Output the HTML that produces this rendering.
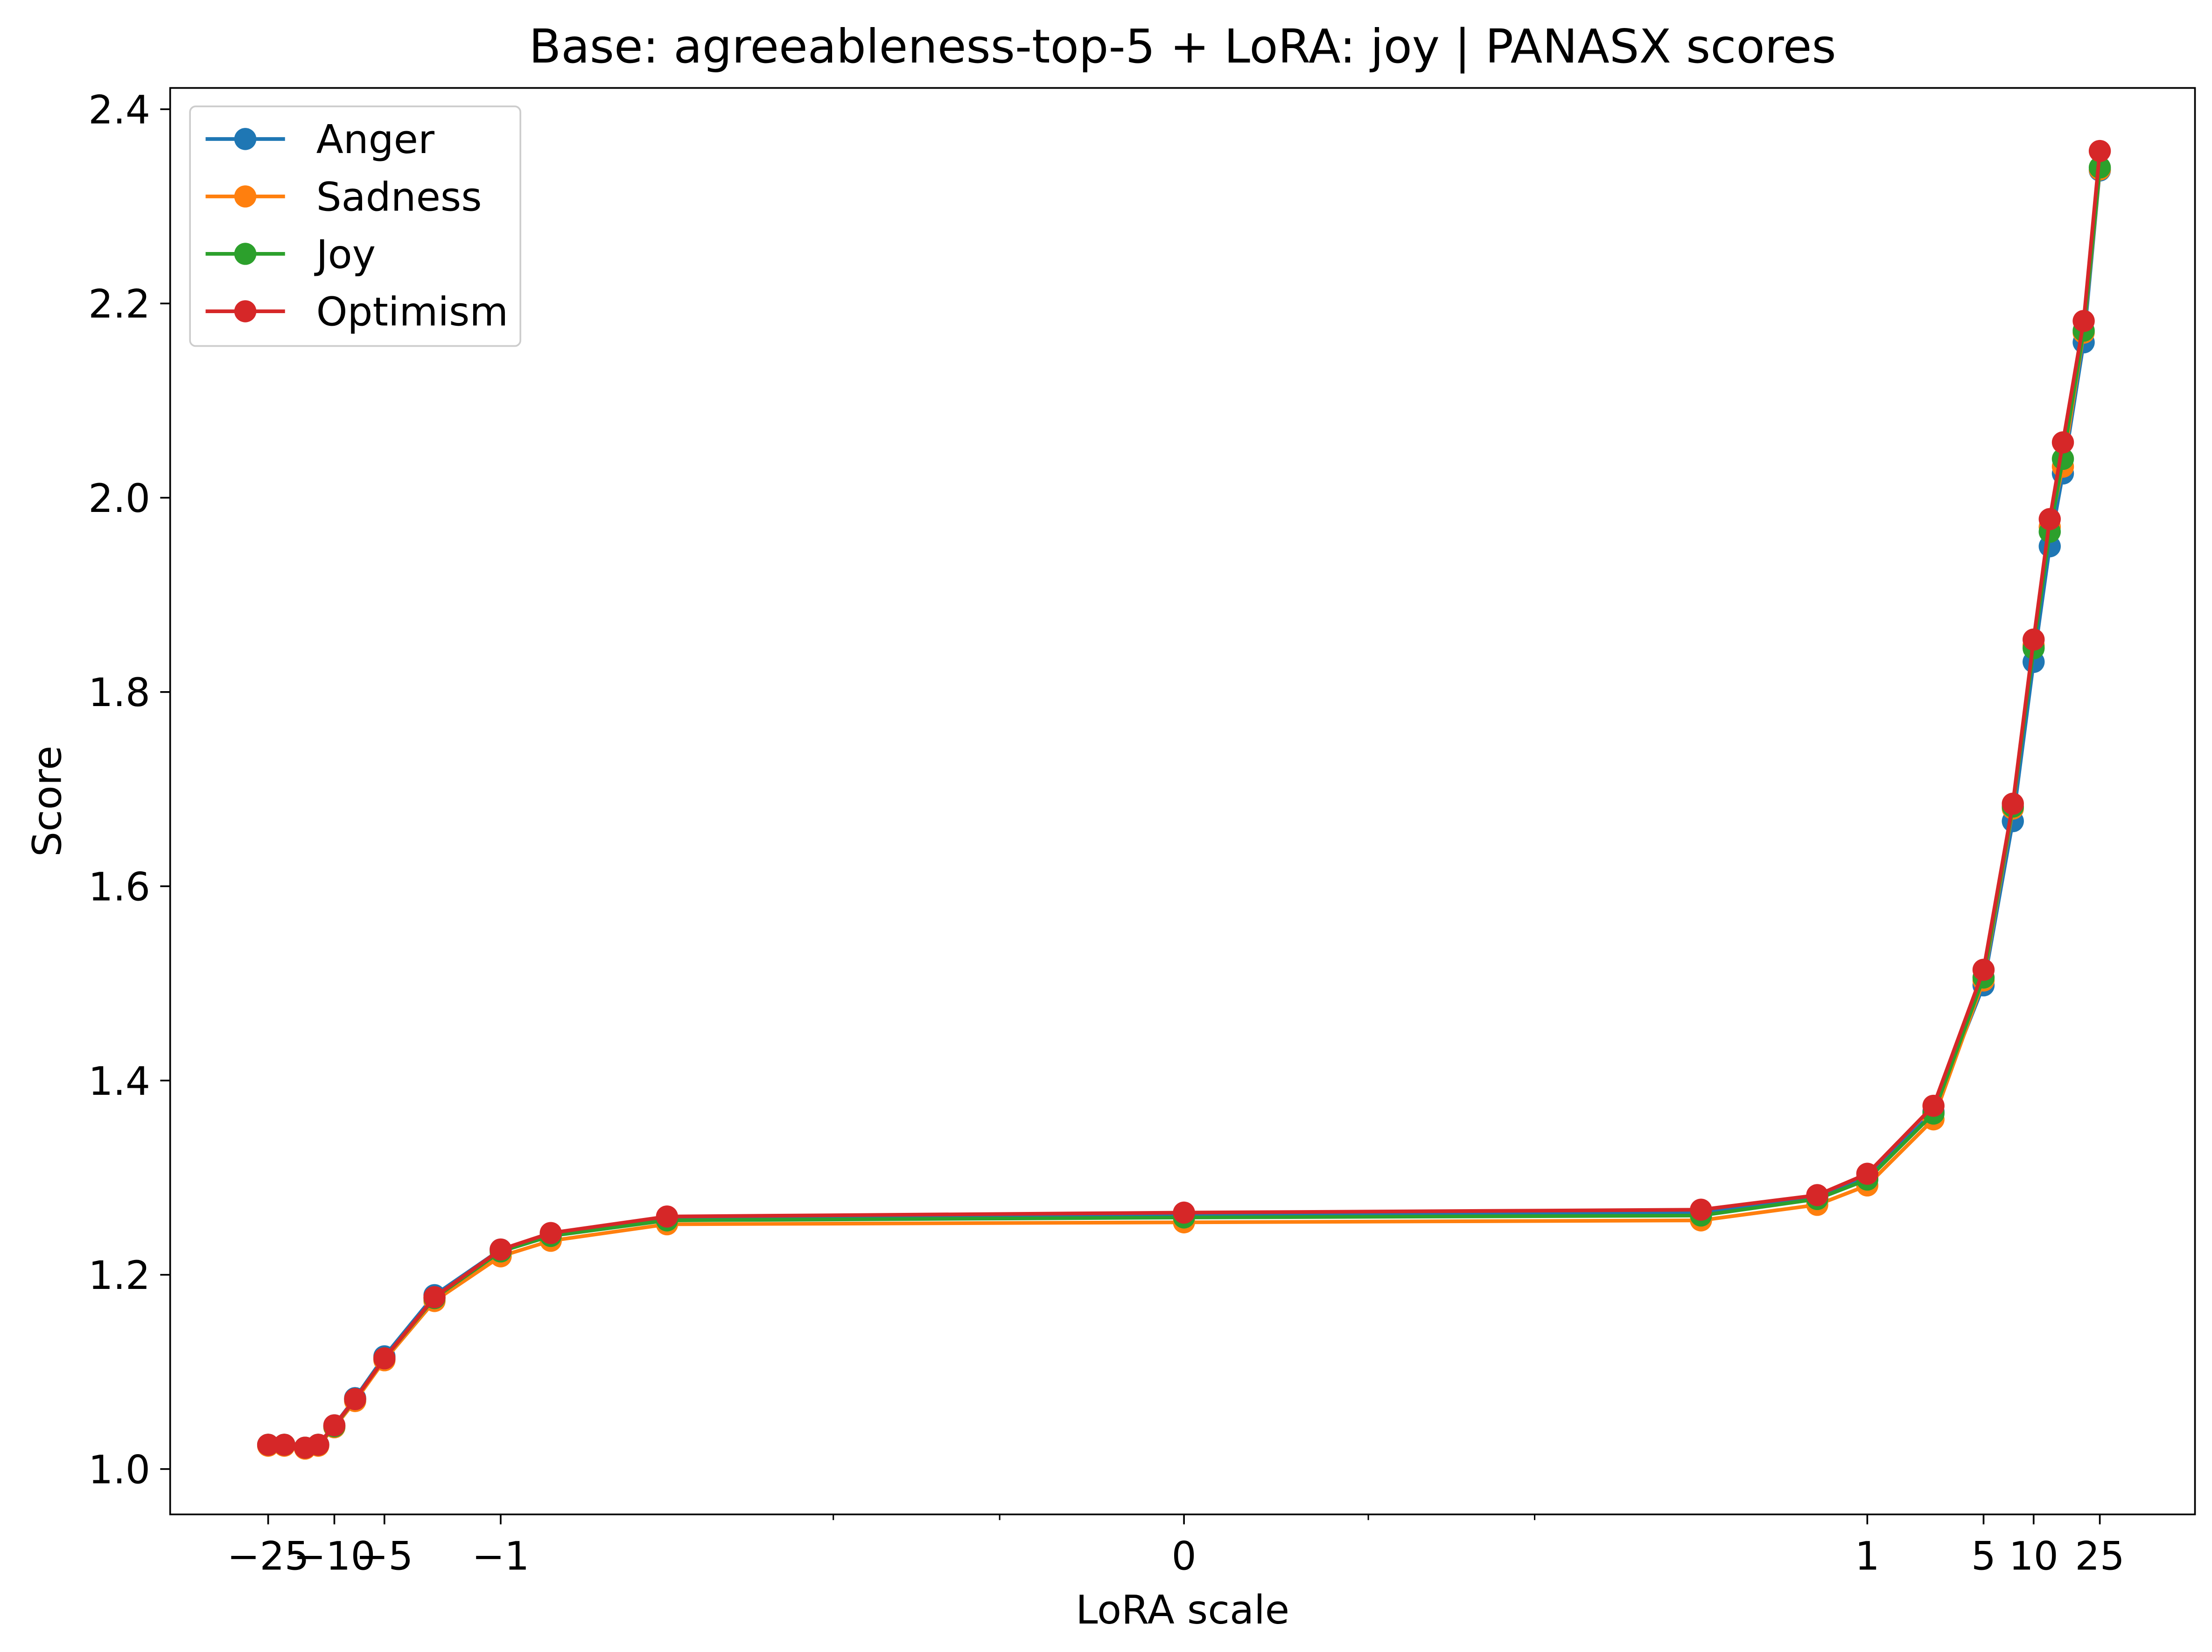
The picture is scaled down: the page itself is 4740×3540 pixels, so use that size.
<!DOCTYPE html>
<html><head><meta charset="utf-8"><style>html,body{margin:0;padding:0;background:#fff}svg{display:block}text{font-family:"DejaVu Sans","Liberation Sans",sans-serif;fill:#000}</style></head>
<body>
<svg id="chart" width="4740" height="3540" viewBox="0 0 1560 1165" xmlns="http://www.w3.org/2000/svg">
<rect x="0" y="0" width="1560" height="1165" fill="#fff"/>
<g id="plot"></g>
</svg>
<script>
const xs = [-25,-20,-15,-12.5,-10,-7.5,-5,-2.5,-1,-0.5,-0.1,0,0.1,0.5,1,2.5,5,7.5,10,12.5,15,20,25];
const anger    = [1.025,1.025,1.022,1.025,1.045,1.073,1.116,1.179,1.226,1.242,1.258,1.262,1.264,1.280,1.300,1.368,1.498,1.667,1.831,1.950,2.025,2.160,2.337];
const sadness  = [1.024,1.024,1.021,1.024,1.043,1.070,1.112,1.173,1.219,1.235,1.252,1.254,1.256,1.272,1.292,1.360,1.503,1.680,1.848,1.970,2.032,2.170,2.338];
const joy      = [1.025,1.025,1.022,1.025,1.044,1.072,1.114,1.176,1.224,1.240,1.256,1.259,1.261,1.278,1.298,1.366,1.506,1.682,1.845,1.965,2.040,2.172,2.340];
const optimism = [1.025,1.025,1.022,1.025,1.045,1.072,1.114,1.177,1.226,1.243,1.260,1.264,1.267,1.282,1.304,1.374,1.514,1.685,1.854,1.978,2.057,2.182,2.357];
const seriesNames = ["Anger","Sadness","Joy","Optimism"];
const colors = ["#1f77b4","#ff7f0e","#2ca02c","#d62728"];
const xTicks = [-25,-10,-5,-1,0,1,5,10,25];
const xTickLabels = ["\u221225","\u221210","\u22125","\u22121","0","1","5","10","25"];
const xMinor = [-0.01,-0.001,0.001,0.01];
const yTicks = [1.0,1.2,1.4,1.6,1.8,2.0,2.2,2.4];

const NS="http://www.w3.org/2000/svg";
const P={l:120,r:1548,t:62,b:1068};
const X0=835, LIN=130, DEC=117.3, T=0.001;
function xs_(v){const a=Math.abs(v);let d=a<=T? a/T*LIN : LIN+Math.log10(a/T)*DEC;return X0+Math.sign(v)*d;}
function ys_(v){return 1036-(v-1.0)*685;}
const g=document.getElementById('plot');
function el(t,a,p){const e=document.createElementNS(NS,t);for(const k in a)e.setAttribute(k,a[k]);(p||g).appendChild(e);return e;}

let e=el('text',{x:834,y:44,'font-size':33,'text-anchor':'middle'});e.textContent="Base: agreeableness-top-5 + LoRA: joy | PANASX scores";



const data=[anger,sadness,joy,optimism];
data.forEach((s,i)=>{
  const sg=el('g',{});
  
  
  const pts=xs.map((x,j)=>xs_(x).toFixed(2)+','+ys_(s[j]).toFixed(2)).join(' ');
  el('polyline',{points:pts,fill:'none',stroke:colors[i],'stroke-width':2.6},sg);
  xs.forEach((x,j)=>{
    const c=el('circle',{cx:xs_(x),cy:ys_(s[j]),r:7.8,fill:colors[i]},sg);
    
    
  });
});

e=el('rect',{x:P.l,y:P.t,width:P.r-P.l,height:P.b-P.t,fill:'none',stroke:'#000','stroke-width':1.2});



xTicks.forEach((v,i)=>{
  const x=xs_(v);
  el('line',{x1:x,x2:x,y1:P.b,y2:P.b+7,stroke:'#000','stroke-width':1.2});
  const t=el('text',{x:x,y:P.b+39,'font-size':27.5,'text-anchor':'middle'});t.textContent=xTickLabels[i];
  
  
});
xMinor.forEach(v=>{const x=xs_(v);el('line',{x1:x,x2:x,y1:P.b,y2:P.b+4,stroke:'#000','stroke-width':1});});
yTicks.forEach(v=>{
  const y=ys_(v);
  el('line',{x1:P.l,x2:P.l-7,y1:y,y2:y,stroke:'#000','stroke-width':1.2});
  const t=el('text',{x:P.l-14,y:y+10,'font-size':27.5,'text-anchor':'end'});t.textContent=v.toFixed(1);
  
  
});
e=el('text',{x:834,y:1145,'font-size':28,'text-anchor':'middle'});e.textContent="LoRA scale";


e=el('text',{x:0,y:0,'font-size':28,'text-anchor':'middle',transform:'translate(43,565) rotate(-90)'});e.textContent="Score";



const lg=el('g',{});


el('rect',{x:134,y:75,width:233,height:169,rx:4,fill:'#fff',stroke:'#ccc','stroke-width':1.2},lg);
seriesNames.forEach((n,i)=>{
  const y=98+i*40.5;
  const eg=el('g',{},lg);
  
  
  el('line',{x1:145,x2:201,y1:y,y2:y,stroke:colors[i],'stroke-width':2.6},eg);
  el('circle',{cx:173,cy:y,r:7.8,fill:colors[i]},eg);
  const t=el('text',{x:223,y:y+10,'font-size':28},eg);t.textContent=n;
});
</script>
</body></html>
